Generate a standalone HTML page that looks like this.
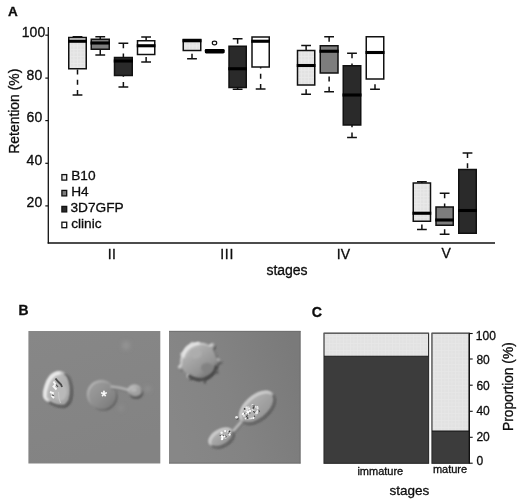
<!DOCTYPE html>
<html><head><meta charset="utf-8"><title>Figure</title>
<style>
html,body{margin:0;padding:0;background:#fff;}
body{width:520px;height:502px;overflow:hidden;}
svg{display:block;}
text{font-family:"Liberation Sans",sans-serif;fill:#0c0c0c;stroke:#0c0c0c;stroke-width:0.3px;}
</style></head><body>
<svg width="520" height="502" viewBox="0 0 520 502">
<defs>
<pattern id="dots" width="3.5" height="3.5" patternUnits="userSpaceOnUse"><rect width="3.5" height="3.5" fill="#e2e2e2"/><rect width="3.5" height="0.8" fill="#e7e7e7"/><rect width="0.8" height="3.5" fill="#e7e7e7"/></pattern>
<pattern id="dotsA" width="3.5" height="3.5" patternUnits="userSpaceOnUse"><rect width="3.5" height="3.5" fill="#e2e2e2"/><rect width="3.5" height="0.8" fill="#eaeaea"/><rect width="0.8" height="3.5" fill="#eaeaea"/></pattern>
<filter id="b1" x="-20%" y="-20%" width="140%" height="140%"><feGaussianBlur stdDeviation="1"/></filter>
<filter id="b07" x="-20%" y="-20%" width="140%" height="140%"><feGaussianBlur stdDeviation="0.8"/></filter>
<filter id="b2" x="-30%" y="-30%" width="160%" height="160%"><feGaussianBlur stdDeviation="2"/></filter>
<filter id="b05" x="-20%" y="-20%" width="140%" height="140%"><feGaussianBlur stdDeviation="0.5"/></filter>
<linearGradient id="bg1" x1="0" y1="0" x2="0.3" y2="1"><stop offset="0" stop-color="#878787"/><stop offset="1" stop-color="#838383"/></linearGradient>
<linearGradient id="bg2" x1="0" y1="0.6" x2="1" y2="0.3"><stop offset="0" stop-color="#878787"/><stop offset="0.45" stop-color="#838383"/><stop offset="1" stop-color="#7a7a7a"/></linearGradient>
<linearGradient id="gc1" x1="0" y1="0" x2="1" y2="1"><stop offset="0" stop-color="#c6c6c6"/><stop offset="0.6" stop-color="#adadad"/><stop offset="1" stop-color="#9a9a9a"/></linearGradient>
<linearGradient id="gc2" x1="0" y1="0" x2="1" y2="1"><stop offset="0" stop-color="#a0a0a0"/><stop offset="0.55" stop-color="#8c8c8c"/><stop offset="1" stop-color="#747474"/></linearGradient>
<linearGradient id="gc3" x1="0.1" y1="0" x2="0.9" y2="1"><stop offset="0" stop-color="#d4d4d4"/><stop offset="0.28" stop-color="#ababab"/><stop offset="0.62" stop-color="#939393"/><stop offset="0.85" stop-color="#6c6c6c"/><stop offset="1" stop-color="#505050"/></linearGradient>
<linearGradient id="gc4" x1="0" y1="0" x2="1" y2="1"><stop offset="0" stop-color="#bcbcbc"/><stop offset="0.5" stop-color="#a2a2a2"/><stop offset="1" stop-color="#8a8a8a"/></linearGradient>
</defs>
<rect width="520" height="502" fill="#fff"/>
<!-- Panel A -->
<text x="8" y="16" font-size="13.5" font-weight="bold">A</text>
<line x1="48.3" y1="27" x2="48.3" y2="243.6" stroke="#111" stroke-width="1.3"/>
<line x1="47.7" y1="243" x2="495" y2="243" stroke="#111" stroke-width="1.3"/>
<g stroke="#111" stroke-width="1.2">
<line x1="45.3" y1="35.2" x2="48" y2="35.2"/>
<line x1="45.3" y1="78.1" x2="48" y2="78.1"/>
<line x1="45.3" y1="120.6" x2="48" y2="120.6"/>
<line x1="45.3" y1="163.3" x2="48" y2="163.3"/>
<line x1="45.3" y1="205.9" x2="48" y2="205.9"/>
</g>
<g font-size="14" text-anchor="end">
<text x="45.2" y="37">100</text>
<text x="42.2" y="79.5">80</text>
<text x="42.2" y="122.3">60</text>
<text x="42.2" y="165">40</text>
<text x="42.2" y="207.3">20</text>
</g>
<text transform="translate(18.9,111.2) rotate(-90)" font-size="13.9" text-anchor="middle">Retention (%)</text>
<line x1="77.5" y1="36.75" x2="77.5" y2="37.5" stroke="#111" stroke-width="1.5" stroke-dasharray="5,5.3"/>
<line x1="72.6" y1="36.75" x2="82.4" y2="36.75" stroke="#111" stroke-width="1.5"/>
<line x1="77.5" y1="95" x2="77.5" y2="68.75" stroke="#111" stroke-width="1.5" stroke-dasharray="5,5.3"/>
<line x1="72.6" y1="95" x2="82.4" y2="95" stroke="#111" stroke-width="1.5"/>
<rect x="68.75" y="37.5" width="17.5" height="31.25" fill="url(#dotsA)" stroke="#111" stroke-width="1.5"/>
<line x1="68" y1="41.25" x2="87" y2="41.25" stroke="#000" stroke-width="3.1"/>
<line x1="100.25" y1="36.75" x2="100.25" y2="39.25" stroke="#111" stroke-width="1.5" stroke-dasharray="5,5.3"/>
<line x1="95.35" y1="36.75" x2="105.15" y2="36.75" stroke="#111" stroke-width="1.5"/>
<line x1="100.25" y1="55" x2="100.25" y2="49.25" stroke="#111" stroke-width="1.5" stroke-dasharray="5,5.3"/>
<line x1="95.35" y1="55" x2="105.15" y2="55" stroke="#111" stroke-width="1.5"/>
<rect x="91.25" y="39.25" width="18.0" height="10.0" fill="#7d7d7d" stroke="#111" stroke-width="1.5"/>
<line x1="90.5" y1="43" x2="110" y2="43" stroke="#000" stroke-width="3.1"/>
<line x1="123.375" y1="43.25" x2="123.375" y2="57.5" stroke="#111" stroke-width="1.5" stroke-dasharray="5,5.3"/>
<line x1="118.475" y1="43.25" x2="128.275" y2="43.25" stroke="#111" stroke-width="1.5"/>
<line x1="123.375" y1="87" x2="123.375" y2="75.5" stroke="#111" stroke-width="1.5" stroke-dasharray="5,5.3"/>
<line x1="118.475" y1="87" x2="128.275" y2="87" stroke="#111" stroke-width="1.5"/>
<rect x="114.5" y="57.5" width="17.75" height="18.0" fill="#2a2a2a" stroke="#111" stroke-width="1.5"/>
<line x1="113.75" y1="61" x2="133" y2="61" stroke="#000" stroke-width="3.1"/>
<line x1="146.125" y1="37" x2="146.125" y2="40.75" stroke="#111" stroke-width="1.5" stroke-dasharray="5,5.3"/>
<line x1="141.225" y1="37" x2="151.025" y2="37" stroke="#111" stroke-width="1.5"/>
<line x1="146.125" y1="62" x2="146.125" y2="54.5" stroke="#111" stroke-width="1.5" stroke-dasharray="5,5.3"/>
<line x1="141.225" y1="62" x2="151.025" y2="62" stroke="#111" stroke-width="1.5"/>
<rect x="137.5" y="40.75" width="17.25" height="13.75" fill="#ffffff" stroke="#111" stroke-width="1.5"/>
<line x1="136.75" y1="45.75" x2="155.5" y2="45.75" stroke="#000" stroke-width="3.1"/>
<line x1="192.0" y1="58.75" x2="192.0" y2="50.5" stroke="#111" stroke-width="1.5" stroke-dasharray="5,5.3"/>
<line x1="187.1" y1="58.75" x2="196.9" y2="58.75" stroke="#111" stroke-width="1.5"/>
<rect x="183.25" y="39.5" width="17.5" height="11.0" fill="url(#dotsA)" stroke="#111" stroke-width="1.5"/>
<line x1="182.5" y1="40.75" x2="201.5" y2="40.75" stroke="#000" stroke-width="3.1"/>
<rect x="205.75" y="50.5" width="17.75" height="1.5" fill="#7d7d7d" stroke="#111" stroke-width="1.5"/>
<line x1="205" y1="51.25" x2="224.25" y2="51.25" stroke="#000" stroke-width="3.1"/>
<line x1="237.625" y1="38.75" x2="237.625" y2="46.25" stroke="#111" stroke-width="1.5" stroke-dasharray="5,5.3"/>
<line x1="232.725" y1="38.75" x2="242.525" y2="38.75" stroke="#111" stroke-width="1.5"/>
<line x1="237.625" y1="89.25" x2="237.625" y2="87.5" stroke="#111" stroke-width="1.5" stroke-dasharray="5,5.3"/>
<line x1="232.725" y1="89.25" x2="242.525" y2="89.25" stroke="#111" stroke-width="1.5"/>
<rect x="229.0" y="46.25" width="17.25" height="41.25" fill="#2a2a2a" stroke="#111" stroke-width="1.5"/>
<line x1="228.25" y1="68.75" x2="247" y2="68.75" stroke="#000" stroke-width="3.1"/>
<line x1="260.625" y1="89" x2="260.625" y2="67" stroke="#111" stroke-width="1.5" stroke-dasharray="5,5.3"/>
<line x1="255.725" y1="89" x2="265.525" y2="89" stroke="#111" stroke-width="1.5"/>
<rect x="252.0" y="37" width="17.25" height="30" fill="#ffffff" stroke="#111" stroke-width="1.5"/>
<line x1="251.25" y1="41.25" x2="270" y2="41.25" stroke="#000" stroke-width="3.1"/>
<line x1="306.125" y1="45.5" x2="306.125" y2="50.5" stroke="#111" stroke-width="1.5" stroke-dasharray="5,5.3"/>
<line x1="301.225" y1="45.5" x2="311.025" y2="45.5" stroke="#111" stroke-width="1.5"/>
<line x1="306.125" y1="94.25" x2="306.125" y2="85" stroke="#111" stroke-width="1.5" stroke-dasharray="5,5.3"/>
<line x1="301.225" y1="94.25" x2="311.025" y2="94.25" stroke="#111" stroke-width="1.5"/>
<rect x="297.5" y="50.5" width="17.25" height="34.5" fill="url(#dotsA)" stroke="#111" stroke-width="1.5"/>
<line x1="296.75" y1="65.5" x2="315.5" y2="65.5" stroke="#000" stroke-width="3.1"/>
<line x1="329.125" y1="36.75" x2="329.125" y2="45.75" stroke="#111" stroke-width="1.5" stroke-dasharray="5,5.3"/>
<line x1="324.225" y1="36.75" x2="334.025" y2="36.75" stroke="#111" stroke-width="1.5"/>
<line x1="329.125" y1="91.75" x2="329.125" y2="73" stroke="#111" stroke-width="1.5" stroke-dasharray="5,5.3"/>
<line x1="324.225" y1="91.75" x2="334.025" y2="91.75" stroke="#111" stroke-width="1.5"/>
<rect x="320.25" y="45.75" width="17.75" height="27.25" fill="#7d7d7d" stroke="#111" stroke-width="1.5"/>
<line x1="319.5" y1="51.25" x2="338.75" y2="51.25" stroke="#000" stroke-width="3.1"/>
<line x1="352.0" y1="53.25" x2="352.0" y2="65.75" stroke="#111" stroke-width="1.5" stroke-dasharray="5,5.3"/>
<line x1="347.1" y1="53.25" x2="356.9" y2="53.25" stroke="#111" stroke-width="1.5"/>
<line x1="352.0" y1="137.5" x2="352.0" y2="125" stroke="#111" stroke-width="1.5" stroke-dasharray="5,5.3"/>
<line x1="347.1" y1="137.5" x2="356.9" y2="137.5" stroke="#111" stroke-width="1.5"/>
<rect x="343.25" y="65.75" width="17.5" height="59.25" fill="#2a2a2a" stroke="#111" stroke-width="1.5"/>
<line x1="342.5" y1="95" x2="361.5" y2="95" stroke="#000" stroke-width="3.1"/>
<line x1="375.0" y1="89.25" x2="375.0" y2="79" stroke="#111" stroke-width="1.5" stroke-dasharray="5,5.3"/>
<line x1="370.1" y1="89.25" x2="379.9" y2="89.25" stroke="#111" stroke-width="1.5"/>
<rect x="366.25" y="36.75" width="17.5" height="42.25" fill="#ffffff" stroke="#111" stroke-width="1.5"/>
<line x1="365.5" y1="52.5" x2="384.5" y2="52.5" stroke="#000" stroke-width="3.1"/>
<line x1="421.875" y1="181.75" x2="421.875" y2="183" stroke="#111" stroke-width="1.5" stroke-dasharray="5,5.3"/>
<line x1="416.975" y1="181.75" x2="426.775" y2="181.75" stroke="#111" stroke-width="1.5"/>
<line x1="421.875" y1="229.5" x2="421.875" y2="221.25" stroke="#111" stroke-width="1.5" stroke-dasharray="5,5.3"/>
<line x1="416.975" y1="229.5" x2="426.775" y2="229.5" stroke="#111" stroke-width="1.5"/>
<rect x="413.25" y="183" width="17.25" height="38.25" fill="url(#dotsA)" stroke="#111" stroke-width="1.5"/>
<line x1="412.5" y1="213.25" x2="431.25" y2="213.25" stroke="#000" stroke-width="3.1"/>
<line x1="444.625" y1="193.25" x2="444.625" y2="207" stroke="#111" stroke-width="1.5" stroke-dasharray="5,5.3"/>
<line x1="439.725" y1="193.25" x2="449.525" y2="193.25" stroke="#111" stroke-width="1.5"/>
<line x1="444.625" y1="234.25" x2="444.625" y2="225.25" stroke="#111" stroke-width="1.5" stroke-dasharray="5,5.3"/>
<line x1="439.725" y1="234.25" x2="449.525" y2="234.25" stroke="#111" stroke-width="1.5"/>
<rect x="436.0" y="207" width="17.25" height="18.25" fill="#7d7d7d" stroke="#111" stroke-width="1.5"/>
<line x1="435.25" y1="220" x2="454" y2="220" stroke="#000" stroke-width="3.1"/>
<line x1="467.5" y1="153" x2="467.5" y2="169.5" stroke="#111" stroke-width="1.5" stroke-dasharray="5,5.3"/>
<line x1="462.6" y1="153" x2="472.4" y2="153" stroke="#111" stroke-width="1.5"/>
<rect x="458.75" y="169.5" width="17.5" height="63.75" fill="#2a2a2a" stroke="#111" stroke-width="1.5"/>
<line x1="458" y1="210.5" x2="477" y2="210.5" stroke="#000" stroke-width="3.1"/>
<ellipse cx="214.5" cy="43" rx="2.2" ry="1.8" fill="#fff" stroke="#111" stroke-width="1.2"/>
<rect x="204.8" y="48.9" width="19.7" height="4.5" rx="1.3" fill="#000"/>
<!-- legend -->
<g stroke="#111" stroke-width="1.3">
<rect x="61.9" y="174.6" width="4.8" height="5.5" fill="#e6e6e6"/>
<rect x="61.9" y="190.4" width="4.8" height="5.5" fill="#7d7d7d"/>
<rect x="61.9" y="206.4" width="4.8" height="5.5" fill="#2a2a2a"/>
<rect x="61.9" y="222.2" width="4.8" height="5.5" fill="#fff"/>
</g>
<g font-size="13.7">
<text x="71.2" y="180.4">B10</text>
<text x="71.2" y="196.3">H4</text>
<text x="70.5" y="212">3D7GFP</text>
<text x="71.2" y="228.4">clinic</text>
</g>
<g font-size="14">
<text x="107.75" y="258.6" letter-spacing="0.3">II</text>
<text x="220.15" y="258.5" letter-spacing="0.8">III</text>
<text x="336.75" y="258.5">IV</text>
<text x="441.5" y="258.3">V</text>
</g>
<text x="287" y="274.5" font-size="14" text-anchor="middle">stages</text>

<!-- Panel B -->
<text x="18.4" y="314.5" font-size="13.9" font-weight="bold">B</text>
<rect x="28.4" y="331" width="131.9" height="132.5" fill="url(#bg1)"/>
<rect x="169" y="331" width="131.5" height="132.5" fill="url(#bg2)"/>
<path d="M169,331.3 H300.5" stroke="#6a6a6a" stroke-width="0.8" fill="none"/>
<path d="M300.1,331 V463.5 M169,463.1 H300.5" stroke="#6c6c6c" stroke-width="0.8" fill="none"/>
<!-- cell 1 -->
<g filter="url(#b07)">
<path d="M59.9,372.5 Q65,372.5 67.9,376 Q71,381 71.4,390 Q71.4,396 69.9,400 Q67,406 62.9,406.3 Q57,406.5 51.9,403.8 Q46,401 44.5,397.9 Q44,392 46,386.9 Q47.5,381 50.9,377 Q55,372.5 59.9,372.5 Z" fill="#404040" transform="translate(1.3,1.3)"/>
<path d="M59.9,372.5 Q65,372.5 67.9,376 Q71,381 71.4,390 Q71.4,396 69.9,400 Q67,406 62.9,406.3 Q57,406.5 51.9,403.8 Q46,401 44.5,397.9 Q44,392 46,386.9 Q47.5,381 50.9,377 Q55,372.5 59.9,372.5 Z" fill="#ececec" transform="translate(-1.3,-1.3)"/>
<path d="M59.9,372.5 Q65,372.5 67.9,376 Q71,381 71.4,390 Q71.4,396 69.9,400 Q67,406 62.9,406.3 Q57,406.5 51.9,403.8 Q46,401 44.5,397.9 Q44,392 46,386.9 Q47.5,381 50.9,377 Q55,372.5 59.9,372.5 Z" fill="url(#gc1)"/>
</g>
<g filter="url(#b07)">
<path d="M48.5,400.5 Q46,399.3 45.2,397.6 Q44.7,392 46.7,387 Q48.2,381 51.5,377.4 Q55,373.3 60.5,373.2" fill="none" stroke="#f2f2f2" stroke-width="2.4"/>
<path d="M64.5,373.8 Q66.3,374.5 67.7,376.2 Q70.7,381 71.1,390 Q71.1,396 69.6,400 Q67,405.8 62.9,406.2 Q57,406.4 51.9,403.8 L49,402" fill="none" stroke="#4c4c4c" stroke-width="1.7"/>
<ellipse cx="60" cy="392" rx="7" ry="9" fill="#b9b9b9"/>
</g>
<g filter="url(#b05)">
<path d="M55.5,378.5 L58,381.5 L61,384.5 L62,387" fill="none" stroke="#4a4a4a" stroke-width="1.9"/>
<path d="M53.5,381.5 l2,3 l-2,2 l3,3 M50,392 l3,1 l-1,3 l2,2" fill="none" stroke="#f6f6f6" stroke-width="1.9"/>
<path d="M56,384.5 l2,2.5 M51.8,394.8 l2,1" fill="none" stroke="#505050" stroke-width="1.2"/>
<path d="M58.5,392 Q58.5,399 60.5,403" fill="none" stroke="#c8c8c8" stroke-width="1"/>
</g>
<!-- cell 2 -->
<g filter="url(#b07)">
<path d="M102.3,381.4 A14,14 0 1 1 102.2,381.4 Z" fill="#585858" transform="translate(1.2,1.2)"/>
<path d="M102.3,381.4 A14,14 0 1 1 102.2,381.4 Z" fill="#bcbcbc" transform="translate(-1.2,-1.2)"/>
<path d="M102.3,381.4 A14,14 0 1 1 102.2,381.4 Z" fill="url(#gc2)"/>
</g>
<g filter="url(#b1)">
<path d="M110.5,386.6 Q116,386.9 120,387.9 T128.5,390" fill="none" stroke="#686868" stroke-width="2.2" transform="translate(0.6,1.2)"/>
<path d="M110.5,386.6 Q116,386.9 120,387.9 T128.5,390" fill="none" stroke="#b8b8b8" stroke-width="2.4"/>
<ellipse cx="136.3" cy="393.3" rx="7" ry="5.8" fill="#585858"/>
<ellipse cx="134.4" cy="390" rx="6.6" ry="5.4" fill="#c0c0c0"/>
<ellipse cx="135.4" cy="391.3" rx="6.2" ry="5" fill="#a0a0a0"/>
<ellipse cx="133.6" cy="389.4" rx="3.2" ry="2.4" fill="#b6b6b6"/>
</g>
<g filter="url(#b2)">
<circle cx="126" cy="345.4" r="4" fill="#949494"/>
<circle cx="147.7" cy="388.8" r="2.6" fill="#939393"/>
<circle cx="121" cy="408" r="2.6" fill="#8e8e8e"/>
</g>
<text x="103.9" y="401.4" font-size="15" text-anchor="middle" style="fill:#fff;stroke:#fff;stroke-width:0.5px">*</text>
<!-- cell 3 echinocyte -->
<g filter="url(#b07)">
<path d="M221.3,361.3 L220.1,362.4 L217.6,363.2 L217.2,364.1 L217.1,365.1 L216.9,366.0 L216.6,366.9 L216.3,367.8 L215.9,368.6 L216.4,370.0 L217.5,371.8 L216.5,372.4 L214.1,372.0 L213.1,372.4 L212.4,373.0 L211.7,373.6 L211.0,374.2 L210.3,374.8 L209.6,375.3 L208.8,375.8 L208.1,376.3 L207.3,376.8 L206.5,377.3 L205.7,377.7 L204.9,378.1 L204.7,380.9 L204.0,382.9 L202.6,381.5 L201.3,379.2 L200.3,379.4 L199.4,379.4 L198.5,379.4 L197.5,379.2 L196.6,379.1 L195.7,378.8 L194.8,378.5 L193.9,378.1 L193.1,377.7 L192.3,377.3 L191.1,377.7 L189.3,378.8 L188.2,378.6 L188.2,376.7 L188.5,374.8 L187.8,374.2 L187.1,373.6 L186.4,373.0 L185.7,372.4 L185.1,371.7 L184.5,371.0 L183.9,370.2 L183.4,369.5 L181.3,369.4 L179.3,369.0 L179.3,367.8 L180.9,366.2 L181.7,365.1 L181.6,364.1 L181.6,363.2 L181.6,362.2 L181.7,361.3 L181.8,360.4 L182.0,359.5 L182.2,358.6 L182.4,357.7 L182.1,356.7 L181.7,355.5 L181.9,354.6 L182.7,353.9 L183.8,353.3 L184.2,352.6 L184.6,351.7 L185.1,350.9 L185.6,350.1 L186.1,349.3 L186.7,348.6 L187.3,347.9 L188.0,347.2 L188.8,346.7 L189.5,346.1 L190.4,345.7 L191.2,345.2 L191.8,344.3 L192.6,343.6 L193.6,343.5 L194.7,343.8 L195.8,344.2 L196.7,344.1 L197.6,344.0 L198.5,344.0 L199.4,344.0 L200.3,344.0 L201.2,344.0 L202.1,344.1 L203.0,344.2 L204.0,344.3 L204.9,344.5 L205.8,344.7 L206.7,344.9 L207.6,345.3 L208.4,345.7 L209.3,346.1 L210.3,346.3 L212.8,344.8 L214.6,344.5 L214.4,346.3 L213.1,349.0 L213.2,350.1 L213.7,350.9 L214.2,351.7 L214.6,352.6 L214.9,353.4 L215.3,354.2 L215.6,355.1 L215.9,356.0 L216.1,356.8 L216.4,357.7 L216.6,358.6 L217.2,359.4 L219.9,360.2 Z" fill="#404040" transform="translate(1.2,1.2)"/>
<path d="M221.3,361.3 L220.1,362.4 L217.6,363.2 L217.2,364.1 L217.1,365.1 L216.9,366.0 L216.6,366.9 L216.3,367.8 L215.9,368.6 L216.4,370.0 L217.5,371.8 L216.5,372.4 L214.1,372.0 L213.1,372.4 L212.4,373.0 L211.7,373.6 L211.0,374.2 L210.3,374.8 L209.6,375.3 L208.8,375.8 L208.1,376.3 L207.3,376.8 L206.5,377.3 L205.7,377.7 L204.9,378.1 L204.7,380.9 L204.0,382.9 L202.6,381.5 L201.3,379.2 L200.3,379.4 L199.4,379.4 L198.5,379.4 L197.5,379.2 L196.6,379.1 L195.7,378.8 L194.8,378.5 L193.9,378.1 L193.1,377.7 L192.3,377.3 L191.1,377.7 L189.3,378.8 L188.2,378.6 L188.2,376.7 L188.5,374.8 L187.8,374.2 L187.1,373.6 L186.4,373.0 L185.7,372.4 L185.1,371.7 L184.5,371.0 L183.9,370.2 L183.4,369.5 L181.3,369.4 L179.3,369.0 L179.3,367.8 L180.9,366.2 L181.7,365.1 L181.6,364.1 L181.6,363.2 L181.6,362.2 L181.7,361.3 L181.8,360.4 L182.0,359.5 L182.2,358.6 L182.4,357.7 L182.1,356.7 L181.7,355.5 L181.9,354.6 L182.7,353.9 L183.8,353.3 L184.2,352.6 L184.6,351.7 L185.1,350.9 L185.6,350.1 L186.1,349.3 L186.7,348.6 L187.3,347.9 L188.0,347.2 L188.8,346.7 L189.5,346.1 L190.4,345.7 L191.2,345.2 L191.8,344.3 L192.6,343.6 L193.6,343.5 L194.7,343.8 L195.8,344.2 L196.7,344.1 L197.6,344.0 L198.5,344.0 L199.4,344.0 L200.3,344.0 L201.2,344.0 L202.1,344.1 L203.0,344.2 L204.0,344.3 L204.9,344.5 L205.8,344.7 L206.7,344.9 L207.6,345.3 L208.4,345.7 L209.3,346.1 L210.3,346.3 L212.8,344.8 L214.6,344.5 L214.4,346.3 L213.1,349.0 L213.2,350.1 L213.7,350.9 L214.2,351.7 L214.6,352.6 L214.9,353.4 L215.3,354.2 L215.6,355.1 L215.9,356.0 L216.1,356.8 L216.4,357.7 L216.6,358.6 L217.2,359.4 L219.9,360.2 Z" fill="#e6e6e6" transform="translate(-1.2,-1.2)"/>
<path d="M221.3,361.3 L220.1,362.4 L217.6,363.2 L217.2,364.1 L217.1,365.1 L216.9,366.0 L216.6,366.9 L216.3,367.8 L215.9,368.6 L216.4,370.0 L217.5,371.8 L216.5,372.4 L214.1,372.0 L213.1,372.4 L212.4,373.0 L211.7,373.6 L211.0,374.2 L210.3,374.8 L209.6,375.3 L208.8,375.8 L208.1,376.3 L207.3,376.8 L206.5,377.3 L205.7,377.7 L204.9,378.1 L204.7,380.9 L204.0,382.9 L202.6,381.5 L201.3,379.2 L200.3,379.4 L199.4,379.4 L198.5,379.4 L197.5,379.2 L196.6,379.1 L195.7,378.8 L194.8,378.5 L193.9,378.1 L193.1,377.7 L192.3,377.3 L191.1,377.7 L189.3,378.8 L188.2,378.6 L188.2,376.7 L188.5,374.8 L187.8,374.2 L187.1,373.6 L186.4,373.0 L185.7,372.4 L185.1,371.7 L184.5,371.0 L183.9,370.2 L183.4,369.5 L181.3,369.4 L179.3,369.0 L179.3,367.8 L180.9,366.2 L181.7,365.1 L181.6,364.1 L181.6,363.2 L181.6,362.2 L181.7,361.3 L181.8,360.4 L182.0,359.5 L182.2,358.6 L182.4,357.7 L182.1,356.7 L181.7,355.5 L181.9,354.6 L182.7,353.9 L183.8,353.3 L184.2,352.6 L184.6,351.7 L185.1,350.9 L185.6,350.1 L186.1,349.3 L186.7,348.6 L187.3,347.9 L188.0,347.2 L188.8,346.7 L189.5,346.1 L190.4,345.7 L191.2,345.2 L191.8,344.3 L192.6,343.6 L193.6,343.5 L194.7,343.8 L195.8,344.2 L196.7,344.1 L197.6,344.0 L198.5,344.0 L199.4,344.0 L200.3,344.0 L201.2,344.0 L202.1,344.1 L203.0,344.2 L204.0,344.3 L204.9,344.5 L205.8,344.7 L206.7,344.9 L207.6,345.3 L208.4,345.7 L209.3,346.1 L210.3,346.3 L212.8,344.8 L214.6,344.5 L214.4,346.3 L213.1,349.0 L213.2,350.1 L213.7,350.9 L214.2,351.7 L214.6,352.6 L214.9,353.4 L215.3,354.2 L215.6,355.1 L215.9,356.0 L216.1,356.8 L216.4,357.7 L216.6,358.6 L217.2,359.4 L219.9,360.2 Z" fill="url(#gc3)"/>
</g>
<g filter="url(#b1)">
<path d="M183,357.5 Q185,345.8 199.5,343" fill="none" stroke="#e8e8e8" stroke-width="2.8"/>
<path d="M188.5,375.5 Q197.5,382.3 208,378 Q214.5,374 216.5,365.5" fill="none" stroke="#484848" stroke-width="3"/>
<ellipse cx="195.5" cy="353.5" rx="6" ry="5" fill="#adadad"/><ellipse cx="207" cy="368" rx="6" ry="5" fill="#828282"/>
</g>
<!-- cell 4 dumbbell -->
<g filter="url(#b07)">
<line x1="231.5" y1="433" x2="242" y2="421" stroke="#5a5a5a" stroke-width="2.6" transform="translate(0.8,0.8)"/>
<line x1="231.5" y1="433" x2="242" y2="421" stroke="#c4c4c4" stroke-width="2.6"/>
</g>
<g filter="url(#b07)">
<path d="M273.0,394.4 L274.4,397.0 L274.6,400.4 L273.7,404.3 L271.7,408.5 L268.7,412.6 L264.9,416.3 L260.7,419.5 L256.2,421.9 L251.8,423.3 L247.8,423.7 L244.5,423.0 L242.0,421.2 L240.6,418.6 L240.4,415.2 L241.3,411.3 L243.3,407.1 L246.3,403.0 L250.1,399.3 L254.3,396.1 L258.8,393.7 L263.2,392.3 L267.2,391.9 L270.5,392.6 Z" fill="#4c4c4c" transform="translate(1.1,1.1)"/>
<path d="M273.0,394.4 L274.4,397.0 L274.6,400.4 L273.7,404.3 L271.7,408.5 L268.7,412.6 L264.9,416.3 L260.7,419.5 L256.2,421.9 L251.8,423.3 L247.8,423.7 L244.5,423.0 L242.0,421.2 L240.6,418.6 L240.4,415.2 L241.3,411.3 L243.3,407.1 L246.3,403.0 L250.1,399.3 L254.3,396.1 L258.8,393.7 L263.2,392.3 L267.2,391.9 L270.5,392.6 Z" fill="#d8d8d8" transform="translate(-1.1,-1.1)"/>
<path d="M273.0,394.4 L274.4,397.0 L274.6,400.4 L273.7,404.3 L271.7,408.5 L268.7,412.6 L264.9,416.3 L260.7,419.5 L256.2,421.9 L251.8,423.3 L247.8,423.7 L244.5,423.0 L242.0,421.2 L240.6,418.6 L240.4,415.2 L241.3,411.3 L243.3,407.1 L246.3,403.0 L250.1,399.3 L254.3,396.1 L258.8,393.7 L263.2,392.3 L267.2,391.9 L270.5,392.6 Z" fill="url(#gc4)"/>
</g>
<g filter="url(#b07)">
<path d="M232.9,431.6 L233.5,433.5 L233.2,435.8 L232.2,438.2 L230.5,440.6 L228.2,442.8 L225.4,444.7 L222.4,446.1 L219.3,447.1 L216.3,447.4 L213.8,447.0 L211.7,446.1 L210.3,444.6 L209.7,442.7 L209.9,440.4 L211.0,438.0 L212.7,435.7 L215.0,433.4 L217.8,431.5 L220.8,430.1 L223.9,429.2 L226.9,428.8 L229.4,429.2 L231.5,430.1 Z" fill="#4c4c4c" transform="translate(1.1,1.1)"/>
<path d="M232.9,431.6 L233.5,433.5 L233.2,435.8 L232.2,438.2 L230.5,440.6 L228.2,442.8 L225.4,444.7 L222.4,446.1 L219.3,447.1 L216.3,447.4 L213.8,447.0 L211.7,446.1 L210.3,444.6 L209.7,442.7 L209.9,440.4 L211.0,438.0 L212.7,435.7 L215.0,433.4 L217.8,431.5 L220.8,430.1 L223.9,429.2 L226.9,428.8 L229.4,429.2 L231.5,430.1 Z" fill="#d8d8d8" transform="translate(-1.1,-1.1)"/>
<path d="M232.9,431.6 L233.5,433.5 L233.2,435.8 L232.2,438.2 L230.5,440.6 L228.2,442.8 L225.4,444.7 L222.4,446.1 L219.3,447.1 L216.3,447.4 L213.8,447.0 L211.7,446.1 L210.3,444.6 L209.7,442.7 L209.9,440.4 L211.0,438.0 L212.7,435.7 L215.0,433.4 L217.8,431.5 L220.8,430.1 L223.9,429.2 L226.9,428.8 L229.4,429.2 L231.5,430.1 Z" fill="url(#gc4)"/>
</g>
<g filter="url(#b07)">
<path d="M242.0,420.4 L241.6,419.7 L241.3,419.1 L241.1,418.4 L240.9,417.6 L240.8,416.8 L240.8,416.0 L240.9,415.1 L241.0,414.2 L241.2,413.2 L241.5,412.3 L241.8,411.3 L242.2,410.3 L242.7,409.3 L243.2,408.3 L243.8,407.3 L244.5,406.3 L245.2,405.3 L245.9,404.3 L246.7,403.3 L247.6,402.4 L248.5,401.4 L249.4,400.5 L250.4,399.6 L251.4,398.8 L252.4,398.0 L253.5,397.2 L254.6,396.5 L255.6,395.9 L256.7,395.2 L257.8,394.7 L258.9,394.2 L260.0,393.7 L261.1,393.3 L262.1,393.0 L263.2,392.8 L264.2,392.6 L265.2,392.4 L266.1,392.4 L267.0,392.4 L267.9,392.4 L268.7,392.6 L269.5,392.8 L270.2,393.0 L270.9,393.3 L271.5,393.7" fill="none" stroke="#d2d2d2" stroke-width="1.8"/>
<path d="M273.2,395.1 L273.6,395.7 L273.9,396.4 L274.1,397.1 L274.3,397.9 L274.3,398.7 L274.4,399.6 L274.3,400.5 L274.2,401.4 L274.0,402.3 L273.7,403.3 L273.4,404.3 L273.0,405.3 L272.5,406.3 L272.0,407.3 L271.4,408.4 L270.7,409.4 L270.0,410.4 L269.2,411.4 L268.4,412.4 L267.6,413.4 L266.6,414.3 L265.7,415.2 L264.7,416.1 L263.7,417.0 L262.7,417.8 L261.6,418.5 L260.5,419.2 L259.4,419.9 L258.3,420.5 L257.2,421.1 L256.1,421.6 L255.0,422.1 L253.9,422.5 L252.9,422.8 L251.8,423.0 L250.8,423.2 L249.8,423.4 L248.8,423.4 L247.9,423.4 L247.0,423.4 L246.2,423.2 L245.4,423.0 L244.6,422.7 L244.0,422.4 L243.3,422.0" fill="none" stroke="#545454" stroke-width="1.6"/>
<path d="M210.8,444.4 L210.6,443.9 L210.4,443.5 L210.3,443.0 L210.2,442.5 L210.2,442.0 L210.2,441.5 L210.3,441.0 L210.4,440.4 L210.6,439.9 L210.9,439.3 L211.1,438.7 L211.4,438.2 L211.8,437.6 L212.2,437.0 L212.6,436.5 L213.1,435.9 L213.6,435.3 L214.2,434.8 L214.8,434.3 L215.4,433.8 L216.0,433.3 L216.7,432.8 L217.3,432.4 L218.0,432.0 L218.8,431.6 L219.5,431.2 L220.2,430.9 L221.0,430.5 L221.7,430.3 L222.5,430.0 L223.2,429.8 L223.9,429.7 L224.7,429.5 L225.4,429.4 L226.1,429.4 L226.7,429.3 L227.4,429.3 L228.0,429.4 L228.6,429.5 L229.2,429.6 L229.7,429.8 L230.2,430.0 L230.7,430.2 L231.1,430.5" fill="none" stroke="#d2d2d2" stroke-width="1.6"/>
<path d="M232.6,431.8 L232.8,432.2 L233.0,432.6 L233.1,433.1 L233.2,433.6 L233.2,434.1 L233.2,434.7 L233.1,435.2 L232.9,435.8 L232.8,436.3 L232.5,436.9 L232.3,437.5 L232.0,438.1 L231.6,438.7 L231.2,439.2 L230.7,439.8 L230.3,440.4 L229.7,441.0 L229.2,441.5 L228.6,442.0 L228.0,442.6 L227.3,443.1 L226.7,443.5 L226.0,444.0 L225.2,444.4 L224.5,444.8 L223.8,445.2 L223.0,445.5 L222.3,445.9 L221.5,446.1 L220.8,446.4 L220.0,446.6 L219.3,446.8 L218.5,446.9 L217.8,447.0 L217.1,447.0 L216.4,447.1 L215.7,447.0 L215.1,447.0 L214.5,446.9 L213.9,446.8 L213.4,446.6 L212.8,446.4 L212.4,446.1 L211.9,445.9" fill="none" stroke="#545454" stroke-width="1.5"/>
</g>
<g filter="url(#b05)">
<ellipse cx="250.5" cy="412.8" rx="8.5" ry="6.4" transform="rotate(-35 250.5 412.8)" fill="#b2b2b2"/>
<circle cx="245.0" cy="410.7" r="0.74" fill="#f4f4f4"/>
<circle cx="250.0" cy="410.9" r="1.25" fill="#f4f4f4"/>
<circle cx="247.2" cy="410.7" r="0.77" fill="#585858"/>
<circle cx="252.5" cy="405.0" r="1.08" fill="#e6e6e6"/>
<circle cx="248.2" cy="406.9" r="0.73" fill="#dcdcdc"/>
<circle cx="246.7" cy="416.4" r="0.72" fill="#3c3c3c"/>
<circle cx="250.1" cy="418.5" r="0.76" fill="#e6e6e6"/>
<circle cx="249.1" cy="408.5" r="1.03" fill="#f4f4f4"/>
<circle cx="247.5" cy="418.0" r="0.91" fill="#4a4a4a"/>
<circle cx="253.4" cy="418.0" r="0.88" fill="#ffffff"/>
<circle cx="256.6" cy="411.9" r="0.75" fill="#e6e6e6"/>
<circle cx="247.4" cy="414.9" r="0.89" fill="#4a4a4a"/>
<circle cx="244.0" cy="415.9" r="0.79" fill="#ffffff"/>
<circle cx="246.6" cy="407.6" r="1.16" fill="#f4f4f4"/>
<circle cx="254.6" cy="416.3" r="0.74" fill="#4a4a4a"/>
<circle cx="248.2" cy="414.4" r="0.74" fill="#dcdcdc"/>
<circle cx="242.5" cy="414.5" r="0.74" fill="#f4f4f4"/>
<circle cx="254.8" cy="412.3" r="0.93" fill="#585858"/>
<circle cx="246.3" cy="413.8" r="0.71" fill="#ffffff"/>
<circle cx="247.3" cy="409.4" r="1.00" fill="#f4f4f4"/>
<circle cx="244.5" cy="413.4" r="0.70" fill="#585858"/>
<circle cx="251.8" cy="418.2" r="0.80" fill="#f4f4f4"/>
<circle cx="247.2" cy="411.3" r="1.19" fill="#e6e6e6"/>
<circle cx="254.3" cy="406.4" r="0.99" fill="#4a4a4a"/>
<circle cx="252.3" cy="409.5" r="0.79" fill="#e6e6e6"/>
<circle cx="243.4" cy="413.2" r="0.71" fill="#e6e6e6"/>
<circle cx="253.0" cy="405.6" r="0.60" fill="#4a4a4a"/>
<circle cx="248.2" cy="412.2" r="1.27" fill="#ffffff"/>
<circle cx="253.5" cy="410.9" r="0.97" fill="#f4f4f4"/>
<circle cx="253.7" cy="411.6" r="0.76" fill="#4a4a4a"/>
<circle cx="245.5" cy="418.6" r="0.81" fill="#f4f4f4"/>
<circle cx="257.4" cy="406.9" r="0.90" fill="#f4f4f4"/>
<circle cx="244.6" cy="408.8" r="0.85" fill="#3c3c3c"/>
<circle cx="243.2" cy="413.7" r="1.06" fill="#ffffff"/>
<circle cx="247.0" cy="408.7" r="1.30" fill="#dcdcdc"/>
<circle cx="249.9" cy="413.0" r="0.66" fill="#3c3c3c"/>
<circle cx="256.2" cy="412.9" r="1.20" fill="#dcdcdc"/>
<circle cx="257.6" cy="408.3" r="1.11" fill="#e6e6e6"/>
<circle cx="258.9" cy="411.3" r="0.99" fill="#4a4a4a"/>
<circle cx="257.6" cy="411.2" r="1.01" fill="#ffffff"/>
<circle cx="255.6" cy="406.8" r="1.02" fill="#e6e6e6"/>
<circle cx="253.4" cy="407.9" r="0.85" fill="#3c3c3c"/>
<circle cx="257.0" cy="412.7" r="1.18" fill="#e6e6e6"/>
<circle cx="257.3" cy="412.2" r="0.82" fill="#e6e6e6"/>
<ellipse cx="225" cy="435" rx="5.8" ry="3.6" transform="rotate(-20 225 435)" fill="#b2b2b2"/>
<circle cx="222.0" cy="436.5" r="1.25" fill="#ffffff"/>
<circle cx="224.9" cy="435.7" r="1.25" fill="#f4f4f4"/>
<circle cx="224.8" cy="435.5" r="1.00" fill="#3c3c3c"/>
<circle cx="225.6" cy="437.7" r="0.94" fill="#dcdcdc"/>
<circle cx="228.6" cy="431.4" r="1.22" fill="#e6e6e6"/>
<circle cx="225.9" cy="436.7" r="0.91" fill="#585858"/>
<circle cx="228.3" cy="431.9" r="1.13" fill="#dcdcdc"/>
<circle cx="229.8" cy="432.4" r="1.28" fill="#dcdcdc"/>
<circle cx="220.2" cy="435.6" r="0.65" fill="#3c3c3c"/>
<circle cx="224.6" cy="436.2" r="0.95" fill="#ffffff"/>
<circle cx="229.2" cy="434.1" r="1.05" fill="#dcdcdc"/>
<circle cx="230.4" cy="434.6" r="0.94" fill="#3c3c3c"/>
<circle cx="221.9" cy="439.2" r="1.13" fill="#f4f4f4"/>
<circle cx="222.4" cy="438.8" r="0.87" fill="#ffffff"/>
<circle cx="228.4" cy="433.0" r="0.61" fill="#3c3c3c"/>
<circle cx="223.9" cy="434.7" r="0.73" fill="#f4f4f4"/>
<circle cx="225.1" cy="431.1" r="1.03" fill="#ffffff"/>
<circle cx="229.5" cy="431.5" r="1.00" fill="#3c3c3c"/>
<circle cx="221.6" cy="432.7" r="1.27" fill="#f4f4f4"/>
<circle cx="222.7" cy="437.5" r="0.89" fill="#ffffff"/>
<circle cx="223.4" cy="435.2" r="0.75" fill="#585858"/>
<circle cx="229.9" cy="434.8" r="1.07" fill="#f4f4f4"/>
<circle cx="237.3" cy="418.4" r="1.3" fill="#505050"/>
<circle cx="236.6" cy="417.3" r="1.4" fill="#e8e8e8"/>
</g>

<!-- Panel C -->
<text x="311.8" y="316.6" font-size="14.2" font-weight="bold">C</text>
<rect x="324" y="333.2" width="104.6" height="130.1" fill="#3c3c3c"/>
<rect x="324" y="333.2" width="104.6" height="23.1" fill="url(#dots)"/>
<rect x="324" y="333.2" width="104.6" height="130.1" fill="none" stroke="#2a2a2a" stroke-width="1.1"/>
<line x1="324" y1="333.2" x2="428.6" y2="333.2" stroke="#666" stroke-width="1.1"/>
<line x1="324" y1="356.3" x2="428.6" y2="356.3" stroke="#1a1a1a" stroke-width="1.1"/>
<rect x="431.95" y="333.2" width="37.1" height="130.1" fill="#3c3c3c"/>
<rect x="431.95" y="333.2" width="37.1" height="97.9" fill="url(#dots)"/>
<rect x="431.95" y="333.2" width="37.1" height="130.1" fill="none" stroke="#2a2a2a" stroke-width="1.1"/>
<line x1="431.95" y1="333.2" x2="469" y2="333.2" stroke="#666" stroke-width="1.1"/>
<line x1="431.95" y1="431.1" x2="469" y2="431.1" stroke="#1a1a1a" stroke-width="1.1"/>
<line x1="469.4" y1="332.7" x2="469.4" y2="463.8" stroke="#111" stroke-width="1.2"/>
<g stroke="#111" stroke-width="1.1">
<line x1="469.4" y1="333.5" x2="472.7" y2="333.5"/>
<line x1="469.4" y1="359" x2="472.7" y2="359"/>
<line x1="469.4" y1="385.2" x2="472.7" y2="385.2"/>
<line x1="469.4" y1="411.3" x2="472.7" y2="411.3"/>
<line x1="469.4" y1="437.3" x2="472.7" y2="437.3"/>
<line x1="469.4" y1="463.2" x2="472.7" y2="463.2"/>
</g>
<g font-size="12">
<text x="475.8" y="340.4">100</text>
<text x="476.4" y="363.5">80</text>
<text x="476.4" y="389.5">60</text>
<text x="476.4" y="415.4">40</text>
<text x="476.4" y="440.9">20</text>
<text x="476.4" y="464.6">0</text>
</g>
<text transform="translate(513.3,386.6) rotate(-90)" font-size="13.75" text-anchor="middle">Proportion (%)</text>
<text x="380.3" y="475" font-size="11" text-anchor="middle">immature</text>
<text x="450" y="473.1" font-size="11" text-anchor="middle">mature</text>
<text x="409.3" y="494.7" font-size="13.5" text-anchor="middle">stages</text>
</svg>
</body></html>
